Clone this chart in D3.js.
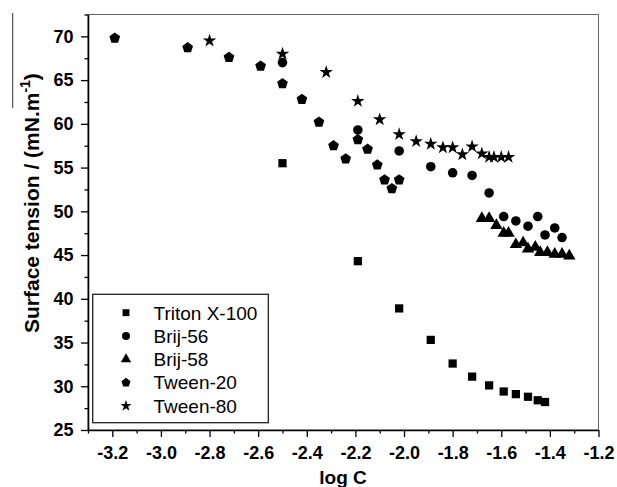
<!DOCTYPE html>
<html lang="en">
<head>
  <meta charset="UTF-8">
  <title>Surface tension vs log C</title>
  <script src="https://d3js.org/d3.v7.min.js"></script>
  <style>
    body { margin: 0; background: #fff; }
    text { font-family: "Liberation Sans", Arial, sans-serif; }
  </style>
</head>
<body>
  <div id="chart"></div>
  <script>
    // data: [log C, surface tension]
    const tritonX100 = [[-2.50, 55.5], [-2.19, 44.3], [-2.02, 38.9], [-1.89, 35.3], [-1.80, 32.6],
      [-1.72, 31.1], [-1.65, 30.1], [-1.59, 29.4], [-1.54, 29.1], [-1.49, 28.8], [-1.45, 28.4], [-1.42, 28.2]];
    const brij56 = [[-2.50, 67.0], [-2.19, 59.3], [-2.02, 56.9], [-1.89, 55.1], [-1.80, 54.4],
      [-1.72, 54.1], [-1.65, 52.1], [-1.59, 49.4], [-1.54, 48.9], [-1.49, 48.3], [-1.45, 49.4],
      [-1.42, 47.3], [-1.38, 48.1], [-1.35, 47.0]];
    const brij58 = [[-1.68, 49.2], [-1.65, 49.2], [-1.62, 48.4], [-1.59, 47.5], [-1.57, 47.5],
      [-1.54, 46.2], [-1.51, 46.4], [-1.49, 45.7], [-1.46, 45.9], [-1.44, 45.3], [-1.41, 45.3],
      [-1.38, 45.1], [-1.35, 45.1], [-1.32, 44.9]];
    const tween20 = [[-3.19, 69.8], [-2.89, 68.7], [-2.72, 67.6], [-2.59, 66.6], [-2.50, 64.6],
      [-2.42, 62.8], [-2.35, 60.2], [-2.29, 57.5], [-2.24, 56.0], [-2.19, 58.2], [-2.15, 57.1],
      [-2.11, 55.3], [-2.08, 53.6], [-2.05, 52.6], [-2.02, 53.6]];
    const tween80 = [[-2.80, 69.5], [-2.50, 68.0], [-2.32, 65.9], [-2.19, 62.6], [-2.10, 60.5],
      [-2.02, 58.8], [-1.95, 58.0], [-1.89, 57.7], [-1.84, 57.3], [-1.80, 57.3], [-1.76, 56.5],
      [-1.72, 57.4], [-1.68, 56.6], [-1.65, 56.2], [-1.63, 56.2], [-1.60, 56.2], [-1.57, 56.2]];

    const seriesNames = ["Triton X-100", "Brij-56", "Brij-58", "Tween-20", "Tween-80"];
    const seriesData = [tritonX100, brij56, brij58, tween20, tween80];
    const seriesShapes = ["square", "circle", "triangle", "pentagon", "star"];

    const xTicks = [-3.2, -3.0, -2.8, -2.6, -2.4, -2.2, -2.0, -1.8, -1.6, -1.4, -1.2];
    const yTicks = [25, 30, 35, 40, 45, 50, 55, 60, 65, 70];

    const width = 617, height = 487;
    const margin = { top: 14.5, right: 18.5, bottom: 57, left: 88 };

    const svg = d3.select("#chart").append("svg")
      .attr("width", width)
      .attr("height", height);

    const x = d3.scaleLinear().domain([-3.3, -1.2]).range([margin.left, width - margin.right]);
    const y = d3.scaleLinear().domain([25, 72.5]).range([height - margin.bottom, margin.top]);

    // pentagon path, not in d3 symbol set
    const pentagon = {
      draw(ctx, size) {
        const r = Math.sqrt(size / 2.3776);
        for (let i = 0; i < 5; i++) {
          const a = -Math.PI / 2 + i * 2 * Math.PI / 5;
          if (i === 0) ctx.moveTo(r * Math.cos(a), r * Math.sin(a));
          else ctx.lineTo(r * Math.cos(a), r * Math.sin(a));
        }
        ctx.closePath();
      }
    };

    function symbolFor(shape, scale) {
      if (shape === "square") return d3.symbol(d3.symbolSquare, 68 * scale)();
      if (shape === "circle") return d3.symbol(d3.symbolCircle, 72 * scale)();
      if (shape === "triangle") return d3.symbol(d3.symbolTriangle, 66 * scale)();
      if (shape === "pentagon") return d3.symbol(pentagon, 76 * scale)();
      return d3.symbol(d3.symbolStar, 56 * scale)();
    }

    // frame: top and right thin grey
    svg.append("rect")
      .attr("x", margin.left)
      .attr("y", margin.top)
      .attr("width", width - margin.right - margin.left)
      .attr("height", height - margin.bottom - margin.top)
      .attr("fill", "none")
      .attr("stroke", "#666")
      .attr("stroke-width", 1);

    // x axis
    const xMinor = d3.range(-3.3, -1.19, 0.1).filter(v => !xTicks.some(t => Math.abs(t - v) < 1e-6));
    const xAxisG = svg.append("g")
      .attr("transform", `translate(0, ${height - margin.bottom})`);
    xAxisG.append("g")
      .call(d3.axisBottom(x).tickValues(xMinor).tickSize(3.5).tickFormat(""))
      .call(g => g.select(".domain").remove())
      .selectAll("line").attr("stroke-width", 1.3);
    xAxisG.append("g")
      .call(d3.axisBottom(x).tickValues(xTicks).tickSize(7).tickSizeOuter(0).tickPadding(9.5)
        .tickFormat(d3.format(".1f")))
      .call(g => g.select(".domain").attr("stroke-width", 1.6))
      .call(g => g.selectAll("line").attr("stroke-width", 1.3))
      .selectAll("text")
      .attr("font-size", "18px")
      .attr("font-weight", "bold")
      .text(d => d3.format(".1f")(d).replace("−", "-"));

    // y axis
    const yMinor = d3.range(27.5, 72.6, 5);
    const yAxisG = svg.append("g")
      .attr("transform", `translate(${margin.left}, 0)`);
    yAxisG.append("g")
      .call(d3.axisLeft(y).tickValues(yMinor).tickSize(3.5).tickFormat(""))
      .call(g => g.select(".domain").remove())
      .selectAll("line").attr("stroke-width", 1.3);
    yAxisG.append("g")
      .call(d3.axisLeft(y).tickValues(yTicks).tickSize(7).tickSizeOuter(0).tickPadding(7.5))
      .call(g => g.select(".domain").attr("stroke-width", 1.6))
      .call(g => g.selectAll("line").attr("stroke-width", 1.3))
      .selectAll("text")
      .attr("font-size", "18px")
      .attr("font-weight", "bold");

    // axis titles
    svg.append("text")
      .attr("x", 343)
      .attr("y", 484)
      .attr("text-anchor", "middle")
      .attr("font-size", "19px")
      .attr("font-weight", "bold")
      .text("log C");

    const yTitle = svg.append("text")
      .attr("transform", "translate(38.5, 333) rotate(-90)")
      .attr("text-anchor", "start")
      .attr("font-size", "21px")
      .attr("font-weight", "bold");
    yTitle.append("tspan").text("Surface tension / (mN.m");
    yTitle.append("tspan").attr("font-size", "14px").attr("dy", -8.5).text("-1");
    yTitle.append("tspan").attr("dy", 8.5).text(")");

    // stray line at top left of the original figure
    svg.append("line")
      .attr("x1", 12.7).attr("x2", 12.7)
      .attr("y1", 13).attr("y2", 108)
      .attr("stroke", "#333")
      .attr("stroke-width", 1);

    // points
    seriesData.forEach((data, i) => {
      svg.append("g").selectAll("path")
        .data(data)
        .enter()
        .append("path")
        .attr("transform", d => `translate(${x(d[0])}, ${y(d[1])})`)
        .attr("d", symbolFor(seriesShapes[i], 1))
        .attr("fill", "#000");
    });

    // legend
    const legend = svg.append("g");
    legend.append("rect")
      .attr("x", 92.7)
      .attr("y", 294.3)
      .attr("width", 175.6)
      .attr("height", 128.4)
      .attr("fill", "#fff")
      .attr("stroke", "#222")
      .attr("stroke-width", 1.3);

    seriesNames.forEach((name, i) => {
      const ly = 312.7 + i * 23.3;
      legend.append("path")
        .attr("transform", `translate(126, ${ly})`)
        .attr("d", symbolFor(seriesShapes[i], 0.7))
        .attr("fill", "#000");
      legend.append("text")
        .attr("x", 153.5)
        .attr("y", ly + 6.8)
        .attr("font-size", "19px")
        .text(name);
    });
  </script>
</body>
</html>
